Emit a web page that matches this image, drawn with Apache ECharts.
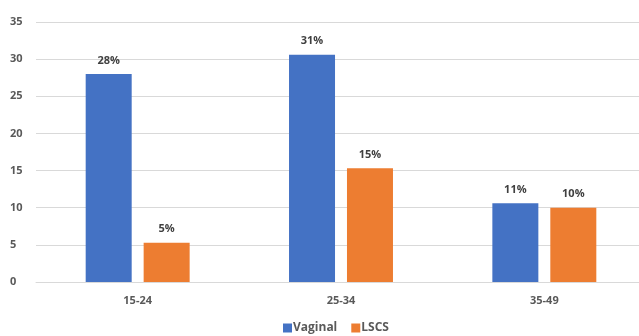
<!DOCTYPE html>
<html><head><meta charset="utf-8">
<script src="https://cdn.jsdelivr.net/npm/echarts@6/dist/echarts.min.js"></script>
<style>html,body{margin:0;padding:0;background:#fff}#c{width:639px;height:336px}</style>
</head><body><div id="c"></div>
<script>
const categories = ['15-24', '25-34', '35-49'];
const vaginal = [28.0, 30.6, 10.6];
const lscs = [5.3, 15.3, 10.0];
const vaginalLabels = ['28%', '31%', '11%'];
const lscsLabels = ['5%', '15%', '10%'];
const yTicks = [0, 5, 10, 15, 20, 25, 30, 35];

const chart = echarts.init(document.getElementById('c'));
const font = '"Open Sans", sans-serif';
const lbl = (arr) => ({
  show: true, position: 'top', distance: 8,
  formatter: p => arr[p.dataIndex],
  color: '#404040', fontWeight: 'bold', fontSize: 11, fontFamily: font
});
chart.setOption({
  animation: false,
  grid: { left: 36, width: 610, top: 22, height: 260, outerBoundsMode: 'none', containLabel: false },
  legend: {
    left: 283, top: 322, itemWidth: 9, itemHeight: 9, itemGap: 14, padding: 0,
    icon: 'rect',
    textStyle: { color: '#595959', fontWeight: 'bold', fontSize: 12, fontFamily: font, padding: [0, 0, 0, -4] },
    data: ['Vaginal', 'LSCS']
  },
  xAxis: {
    type: 'category', data: categories,
    axisLine: { lineStyle: { color: '#d9d9d9' } },
    axisTick: { show: false },
    axisLabel: { color: '#595959', fontWeight: 'bold', fontSize: 11, fontFamily: font, margin: 13 }
  },
  yAxis: {
    type: 'value', min: yTicks[0], max: yTicks[yTicks.length - 1], interval: 5,
    axisLine: { show: false }, axisTick: { show: false },
    splitLine: { lineStyle: { color: '#d9d9d9' } },
    axisLabel: { color: '#595959', fontWeight: 'bold', fontSize: 11, fontFamily: font, margin: 26, align: 'left' }
  },
  series: [
    { name: 'Vaginal', type: 'bar', data: vaginal, itemStyle: { color: '#4472C4' },
      barWidth: 46, barGap: '26%', label: lbl(vaginalLabels) },
    { name: 'LSCS', type: 'bar', data: lscs, itemStyle: { color: '#ED7D31' },
      barWidth: 46, label: lbl(lscsLabels) }
  ]
});
</script></body></html>
